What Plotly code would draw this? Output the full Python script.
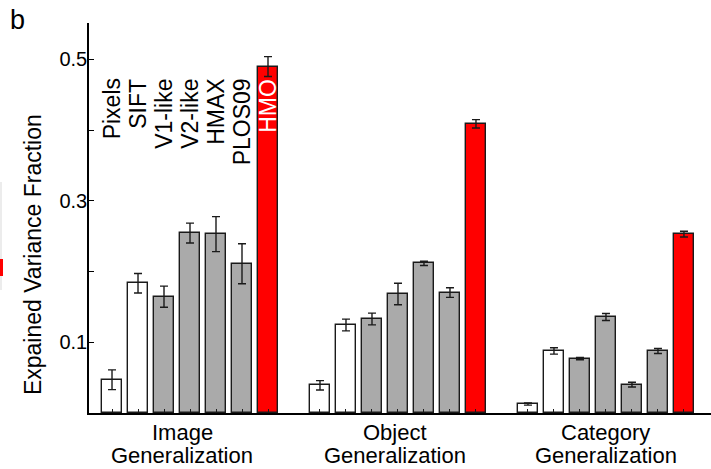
import plotly.graph_objects as go

models = ["Pixels", "SIFT", "V1-like", "V2-like", "HMAX", "PLOS09", "HMO"]
model_colors = ["#ffffff", "#ffffff", "#aaaaaa", "#aaaaaa", "#aaaaaa", "#aaaaaa", "#ff0000"]
group_line1 = ["Image", "Object", "Category"]
group_line2 = ["Generalization", "Generalization", "Generalization"]

image_vals = [0.047, 0.1835, 0.1645, 0.2545, 0.253, 0.211, 0.490]
image_err = [0.014, 0.0137, 0.015, 0.014, 0.0248, 0.0283, 0.014]
object_vals = [0.0392, 0.1245, 0.133, 0.1683, 0.2117, 0.1703, 0.409]
object_err = [0.0066, 0.0083, 0.0083, 0.0153, 0.003, 0.0068, 0.006]
category_vals = [0.0127, 0.0877, 0.0769, 0.1358, 0.0401, 0.0877, 0.253]
category_err = [0.0015, 0.0045, 0.0015, 0.005, 0.0033, 0.0035, 0.004]

ytick_vals = [0.1, 0.2, 0.3, 0.4, 0.5]
ytick_text = ["0.1", "", "0.3", "", "0.5"]

FONT = "Liberation Sans, Arial, Helvetica, sans-serif"

groups_vals = [image_vals, object_vals, category_vals]
groups_err = [image_err, object_err, category_err]
n_models = len(models)
slot = n_models + 1

fig = go.Figure()
all_pos = []
for m in range(n_models):
    xs = [g * slot + m + 1 for g in range(3)]
    all_pos.extend(xs)
    fig.add_trace(go.Bar(
        x=xs,
        y=[groups_vals[g][m] for g in range(3)],
        width=0.8,
        name=models[m],
        marker=dict(color=model_colors[m], line=dict(color="#1a1a1a", width=1.4)),
        error_y=dict(type="data", array=[groups_err[g][m] for g in range(3)],
                     color="#1a1a1a", thickness=1.4, width=4),
        showlegend=False,
    ))

all_pos = sorted(all_pos)
label_shift = [-0.3, -0.1, 0.0]
centers = [g * slot + (n_models + 1) / 2 + label_shift[g] for g in range(3)]

annotations = []
# rotated model labels above the first group
for m in range(n_models):
    annotations.append(dict(
        x=m + 1, xref="x", y=0.862, yref="paper",
        text=models[m], textangle=-90, showarrow=False,
        xanchor="center", yanchor="top",
        font=dict(family=FONT, size=23, color="#ffffff" if m == n_models - 1 else "#000000"),
    ))
# group labels
for g in range(3):
    annotations.append(dict(x=centers[g], xref="x", y=-0.05, yref="paper",
                            text=group_line1[g], showarrow=False, xanchor="center", yanchor="middle",
                            font=dict(family=FONT, size=22, color="#000000")))
    annotations.append(dict(x=centers[g], xref="x", y=-0.108, yref="paper",
                            text=group_line2[g], showarrow=False, xanchor="center", yanchor="middle",
                            font=dict(family=FONT, size=22, color="#000000")))
# y axis title
annotations.append(dict(x=-0.09, xref="paper", y=0.405, yref="paper",
                        text="Expained Variance Fraction", textangle=-90, showarrow=False,
                        xanchor="center", yanchor="middle",
                        font=dict(family=FONT, size=23, color="#000000")))
# panel letter
annotations.append(dict(x=-0.13, xref="paper", y=1.007, yref="paper",
                        text="b", showarrow=False, xanchor="left", yanchor="middle",
                        font=dict(family=FONT, size=27, color="#000000")))

fig.update_layout(
    width=711, height=469,
    margin=dict(l=89, r=0, t=23, b=56),
    plot_bgcolor="#ffffff", paper_bgcolor="#ffffff",
    barmode="overlay",
    bargap=0,
    annotations=annotations,
    font=dict(family=FONT, color="#000000"),
    shapes=[
        dict(type="rect", xref="paper", yref="paper", x0=-0.1431, x1=-0.1399,
             y0=(413 - 290) / 390, y1=(413 - 182) / 390,
             fillcolor="#ececec", line=dict(width=0), layer="above"),
        dict(type="rect", xref="paper", yref="paper", x0=-0.1431, x1=-0.1383,
             y0=(413 - 276) / 390, y1=(413 - 259) / 390,
             fillcolor="#ff0000", line=dict(width=0), layer="above"),
    ],
)
fig.update_xaxes(
    range=[0.115, 24.04], showgrid=False, zeroline=False,
    showline=True, linecolor="#000000", linewidth=1.5,
    tickmode="array", tickvals=all_pos, ticktext=["" for _ in all_pos],
    ticks="inside", ticklen=4, tickwidth=1, tickcolor="#1a1a1a",
)
fig.update_yaxes(
    range=[0, 0.5516], showgrid=False, zeroline=False,
    showline=True, linecolor="#000000", linewidth=1.5,
    tickmode="array", tickvals=ytick_vals, ticktext=ytick_text,
    ticks="inside", ticklen=5, tickwidth=1, tickcolor="#000000",
    ticklabelstandoff=-4,
    tickfont=dict(family=FONT, size=20, color="#000000"),
)

fig.write_html("out.html", config={"displayModeBar": False},
               post_script="document.body.style.margin='0';document.body.style.padding='0';window.dispatchEvent(new Event('resize'));")
